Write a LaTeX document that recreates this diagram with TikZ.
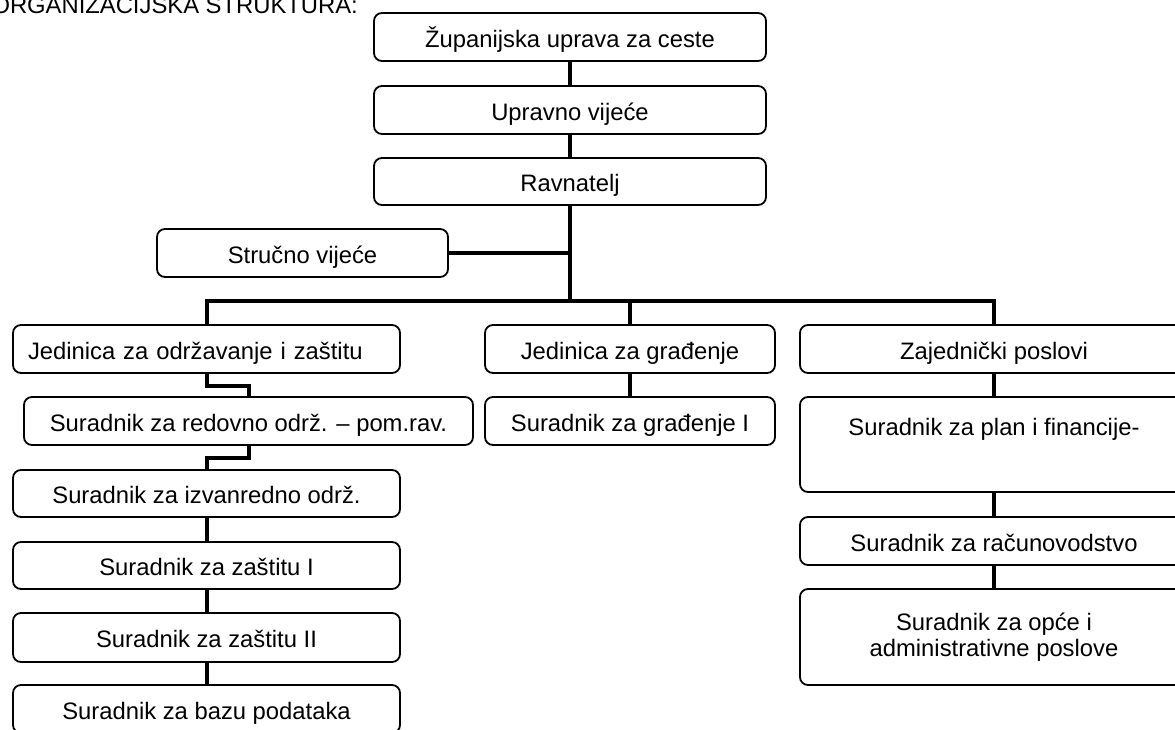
\documentclass[tikz,border=0pt]{standalone}
\usepackage{fontspec}
\setmainfont{Liberation Sans}
\begin{document}
\begin{tikzpicture}[x=1pt,y=-1pt,
  lblfont/.style={font=\fontsize{23.8pt}{26pt}\selectfont},
  box/.style={draw=black, line width=1.8pt, rounded corners=8pt, fill=white,
    inner sep=0pt, lblfont},
  onel/.style={box, text height=20pt, text depth=0pt},
  conn/.style={line width=4pt, line join=miter},
]
\useasboundingbox (0,0) rectangle (1175,729);
\clip (0,0) rectangle (1175,729);

\node[lblfont, anchor=base east, inner sep=0pt] (title) at (358,13) {ORGANIZACIJSKA STRUKTURA:};

% top chain
\node[onel, minimum width=392pt, minimum height=48pt] (zup) at (570,37) {Županijska uprava za ceste};
\node[onel, minimum width=392pt, minimum height=48pt] (upr) at (570,110) {Upravno vijeće};
\node[onel, minimum width=392pt, minimum height=47pt] (rav) at (570,181.5) {Ravnatelj};
\node[onel, minimum width=291pt, minimum height=48pt] (str) at (302.5,253) {Stručno vijeće};

% left column
\node[onel, minimum width=387pt, minimum height=48pt, text width=357pt, align=left, inner xsep=15pt] (jed1) at (206.5,349) {Jedinica za održavanje i zaštitu};
\node[onel, minimum width=449pt, minimum height=48pt] (red) at (248.5,421) {Suradnik za redovno održ. – pom.rav.};
\node[onel, minimum width=387pt, minimum height=47pt] (izv) at (206.5,493.5) {Suradnik za izvanredno održ.};
\node[onel, minimum width=387pt, minimum height=47pt] (zas1) at (206.5,565.5) {Suradnik za zaštitu I};
\node[onel, minimum width=387pt, minimum height=49pt] (zas2) at (206.5,637.5) {Suradnik za zaštitu II};
\node[onel, minimum width=387pt, minimum height=48pt] (baza) at (206.5,709) {Suradnik za bazu podataka};

% middle column
\node[onel, minimum width=290pt, minimum height=48pt] (jed2) at (630,349) {Jedinica za građenje};
\node[onel, minimum width=290pt, minimum height=48pt] (sgr) at (630,421) {Suradnik za građenje I};

% right column
\node[onel, minimum width=388pt, minimum height=48pt] (zaj) at (994,349) {Zajednički poslovi};
\node[box, minimum width=388pt, minimum height=95pt, text height=20pt, text depth=39pt] (plan) at (994,444.5) {Suradnik za plan i financije-};
\node[onel, minimum width=388pt, minimum height=48pt] (rac) at (994,541) {Suradnik za računovodstvo};
\node[box, minimum width=388pt, minimum height=96pt, align=center] (opce) at (994,637) {Suradnik za opće i\\administrativne poslove};

% connectors
\coordinate (bus) at (207,301);
\draw[conn] (zup.south) -- (upr.north);
\draw[conn] (upr.south) -- (rav.north);
\draw[conn, line width=4.5pt] (rav.south) -- (rav.south |- bus);
\draw[conn, line width=3.5pt] (str.east) -- (str.east -| rav.south);
\draw[conn] (jed1.north) -- (jed1.north |- bus) -- (zaj.north |- bus) -- (zaj.north);
\draw[conn] (jed2.north |- bus) -- (jed2.north);
\draw[conn] (jed1.south) -- ++(0,12) -| (red.north);
\draw[conn] (red.south) -- ++(0,12) -| (izv.north);
\draw[conn] (izv.south) -- (zas1.north);
\draw[conn] (zas1.south) -- (zas2.north);
\draw[conn] (zas2.south) -- (baza.north);
\draw[conn] (jed2.south) -- (sgr.north);
\draw[conn] (zaj.south) -- (plan.north);
\draw[conn] (plan.south) -- (rac.north);
\draw[conn] (rac.south) -- (opce.north);
\end{tikzpicture}
\end{document}
